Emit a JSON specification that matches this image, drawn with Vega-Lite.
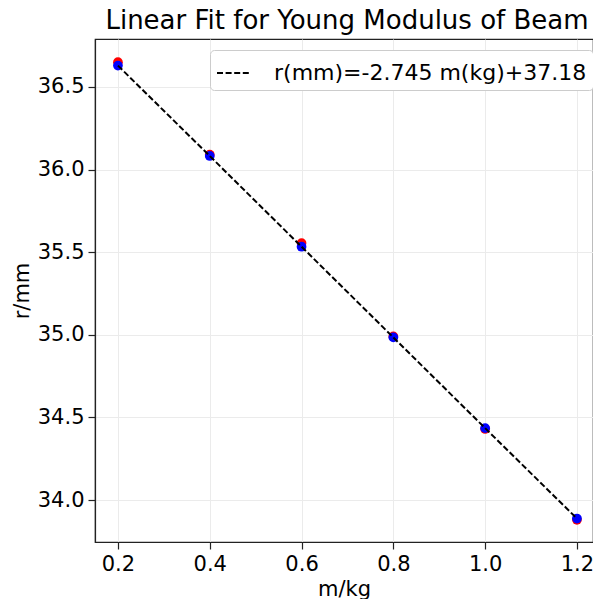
{
  "$schema": "https://vega.github.io/schema/vega-lite/v6.json",
  "autosize": "none",
  "width": 498,
  "height": 503,
  "padding": {"left": 95, "top": 39, "right": 0, "bottom": 57},
  "background": "white",
  "title": {
    "text": "Linear Fit for Young Modulus of Beam",
    "font": "DejaVu Sans",
    "fontSize": 26,
    "fontWeight": "normal",
    "color": "black",
    "anchor": "middle",
    "dx": 3,
    "offset": 5
  },
  "config": {
    "font": "DejaVu Sans",
    "view": {"stroke": "#222", "strokeWidth": 1.2},
    "axis": {
      "labelFont": "DejaVu Sans",
      "labelFontSize": 21,
      "labelColor": "black",
      "titleFont": "DejaVu Sans",
      "titleFontSize": 21,
      "titleFontWeight": "normal",
      "titleColor": "black",
      "domainColor": "#222",
      "domainWidth": 1.2,
      "tickColor": "#222",
      "tickSize": 7,
      "tickWidth": 1.2,
      "gridColor": "#ebebeb",
      "gridWidth": 1,
      "labelPadding": 4
    }
  },
  "datasets": {
    "measured": [
      {"m": 0.2, "r": 36.65},
      {"m": 0.4, "r": 36.09},
      {"m": 0.6, "r": 35.555},
      {"m": 0.8, "r": 34.99},
      {"m": 1.0, "r": 34.43},
      {"m": 1.2, "r": 33.88}
    ],
    "fit": [
      {"m": 0.2, "r": 36.629, "label": "r(mm)=-2.745 m(kg)+37.18"},
      {"m": 0.4, "r": 36.082, "label": "r(mm)=-2.745 m(kg)+37.18"},
      {"m": 0.6, "r": 35.533, "label": "r(mm)=-2.745 m(kg)+37.18"},
      {"m": 0.8, "r": 34.984, "label": "r(mm)=-2.745 m(kg)+37.18"},
      {"m": 1.0, "r": 34.435, "label": "r(mm)=-2.745 m(kg)+37.18"},
      {"m": 1.2, "r": 33.888, "label": "r(mm)=-2.745 m(kg)+37.18"}
    ]
  },
  "encoding": {
    "x": {
      "field": "m",
      "type": "quantitative",
      "scale": {"domain": [0.15, 1.235], "nice": false, "zero": false},
      "axis": {"title": "m/kg", "values": [0.2, 0.4, 0.6, 0.8, 1.0, 1.2], "format": ".1f", "titlePadding": 4}
    },
    "y": {
      "field": "r",
      "type": "quantitative",
      "scale": {"domain": [33.746, 36.79], "nice": false, "zero": false},
      "axis": {"title": "r/mm", "values": [34.0, 34.5, 35.0, 35.5, 36.0, 36.5], "format": ".1f", "titlePadding": 5}
    }
  },
  "layer": [
    {
      "data": {"name": "measured"},
      "mark": {"type": "circle", "size": 95, "color": "red", "opacity": 1}
    },
    {
      "data": {"name": "fit"},
      "mark": {"type": "circle", "size": 95, "color": "blue", "opacity": 1}
    },
    {
      "data": {"name": "fit"},
      "mark": {"type": "line", "color": "black", "strokeWidth": 2},
      "encoding": {
        "strokeDash": {
          "field": "label",
          "type": "nominal",
          "scale": {"range": [[6, 2.6]]},
          "legend": {
            "title": null,
            "orient": "none",
            "legendX": 115,
            "legendY": 11,
            "symbolType": "stroke",
            "symbolSize": 1024,
            "symbolStrokeWidth": 2,
            "symbolStrokeColor": "black",
            "labelFont": "DejaVu Sans",
            "labelFontSize": 22,
            "labelColor": "black",
            "labelOffset": 24,
            "labelLimit": 500,
            "strokeColor": "#cccccc",
            "fillColor": "white",
            "cornerRadius": 4,
            "padding": 6
          }
        }
      }
    }
  ]
}
